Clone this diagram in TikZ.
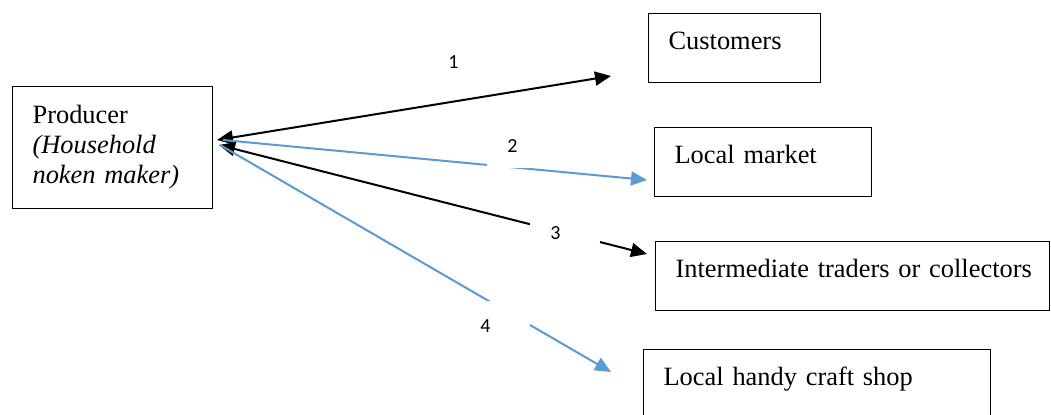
\documentclass[tikz,border=0pt]{standalone}
\usepackage{fontspec}
\setmainfont{Liberation Serif}
\newfontfamily\numfont{Carlito}
\usetikzlibrary{arrows.meta}

\definecolor{lineblue}{RGB}{91,155,213}

\tikzset{
  box/.style={draw, line width=0.6pt, inner xsep=10pt, align=left, anchor=north west,
    font=\fontsize{13.2}{15}\selectfont},
  dest/.style={box, inner ysep=0pt, text height=18pt, text depth=16.5pt},
  numbox/.style={fill=white, inner ysep=0pt, inner xsep=10pt, align=left, anchor=base west,
    font=\numfont\fontsize{10}{12}\selectfont},
  arr/.style={line width=1pt, -{Triangle[length=8pt,width=7pt]}},
  biarr/.style={line width=1pt, {Triangle[length=8pt,width=7pt]}-{Triangle[length=8pt,width=7pt]}},
}

\begin{document}
\begin{tikzpicture}[x=0.5pt,y=-0.5pt]
\useasboundingbox (0,0) rectangle (1051,414);

% producer and the four outlets
\node[box, text width=80pt, minimum height=61pt, inner ysep=2pt] (producer) at (12,86)
  {Producer\\ \textit{(Household}\\ \textit{noken maker)}};
\node[dest, text width=66pt] (customers) at (648,13) {Customers};
\node[dest, text width=88.5pt] (market) at (654,127) {Local market};
\node[dest, text width=177pt] (traders) at (655,241) {\mbox{Intermediate traders or collectors}};
\node[dest, text width=153.5pt] (shop) at (643,349) {Local handy craft shop};

% arrow ends
\coordinate (p1) at (217,140);
\coordinate (p2) at (223,140);
\coordinate (p3) at (219,145);
\coordinate (p4) at (220,145);
\coordinate (c1) at (611,76);
\coordinate (c2) at (647,180);
\coordinate (c3) at (647,254);
\coordinate (c4) at (611,372);

\draw[biarr] (p1) -- (c1);
\draw[arr, lineblue] (p2) -- (c2);
\draw[biarr] (p3) -- (c3);
\draw[arr, lineblue] (p4) -- (c4);

% channel numbers
\node[numbox] (n1) at (428,68.5) {1};
\node[numbox, text width=10pt, text height=12pt, text depth=7.75pt] (n2) at (487,152.5) {2};
\node[numbox, text width=15pt, text height=12pt, text depth=1.75pt] (n3) at (530,239.5) {3};
\node[numbox, text width=15pt, text height=15.75pt, text depth=2.5pt] (n4) at (460,332.5) {4};

\end{tikzpicture}
\end{document}
